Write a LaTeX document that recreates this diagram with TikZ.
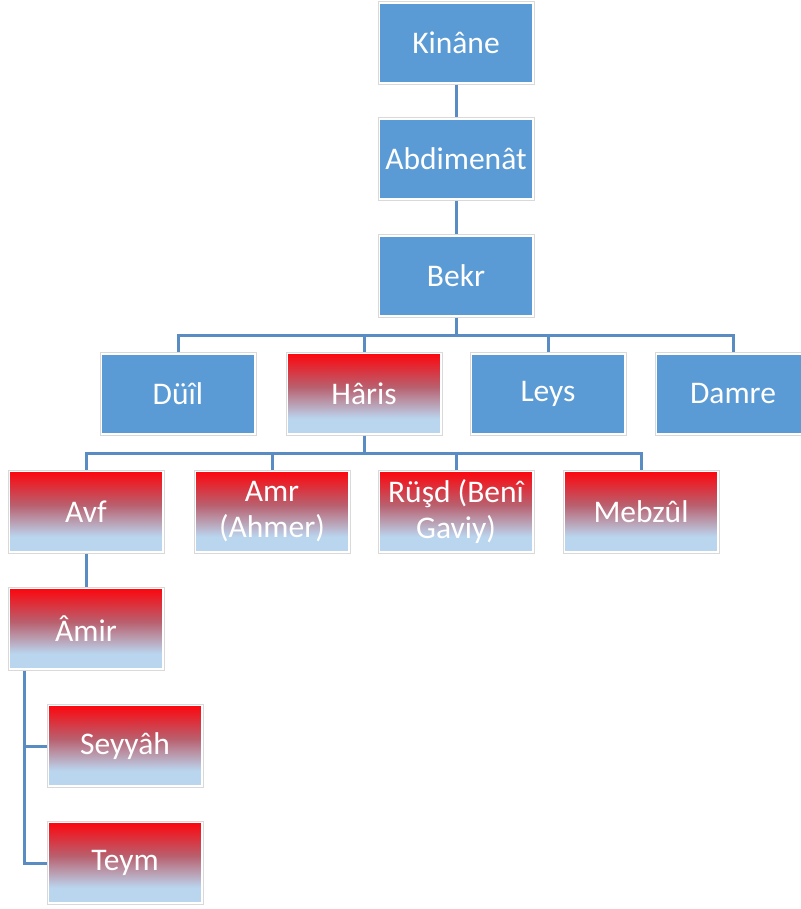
\documentclass[tikz,border=0pt]{standalone}
\usepackage{fontspec}
\setmainfont{Carlito}
\definecolor{boxblue}{HTML}{5B9BD5}
\definecolor{topred}{HTML}{FA0A12}
\definecolor{botblue}{HTML}{BAD5EE}
\definecolor{linkblue}{HTML}{5A8CC4}
\begin{document}
\begin{tikzpicture}[x=1pt,y=-1pt,
  basebox/.style={minimum width=156pt, minimum height=83pt, inner sep=2pt,
    draw=black!15, line width=0.8pt, fill=white, text=white, align=center,
    font=\fontsize{31.5}{36}\selectfont},
  bluebox/.style={basebox, path picture={
    \fill[boxblue] ([shift={(2.2pt,2.2pt)}]path picture bounding box.south west)
      rectangle ([shift={(-2.2pt,-2.2pt)}]path picture bounding box.north east);}},
  redbox/.style={basebox, path picture={
    \fill[botblue] ([shift={(2.2pt,2.2pt)}]path picture bounding box.south west)
      rectangle ([shift={(-2.2pt,-2.2pt)}]path picture bounding box.north east);
    \shade[top color=topred, bottom color=botblue, middle color=topred!50!botblue!85!black]
      ([shift={(2.2pt,17pt)}]path picture bounding box.south west)
      rectangle ([shift={(-2.2pt,-2.2pt)}]path picture bounding box.north east);}},
  link/.style={draw=linkblue, line width=3pt}
]
\useasboundingbox (0,0) rectangle (800,909);

\node[bluebox] (kinane) at (456,43) {Kinâne};
\node[bluebox] (abdi) at (456,159) {Abdimenât};
\node[bluebox] (bekr) at (456,276) {Bekr};

\node[bluebox] (dul) at (178,394) {Düîl};
\node[redbox] (haris) at (364,394) {Hâris};
\node[bluebox] (leys) at (548,394) {Leys};
\node[bluebox] (damre) at (733,394) {Damre};

\node[redbox] (avf) at (86,512) {Avf};
\node[redbox] (amr) at (272,512) {Amr\\(Ahmer)};
\node[redbox] (rusd) at (456,512) {Rüşd (Benî\\Gaviy)};
\node[redbox] (mebzul) at (641,512) {Mebzûl};

\node[redbox] (amir) at (86,629) {Âmir};
\node[redbox] (seyyah) at (125,746) {Seyyâh};
\node[redbox] (teym) at (125,863) {Teym};

\draw[link] (kinane.south) -- (abdi.north);
\draw[link] (abdi.south) -- (bekr.north);
\foreach \c in {dul,haris,leys,damre}
  \draw[link] (bekr.south) -- ++(0,18) -| (\c.north);
\foreach \c in {avf,amr,rusd,mebzul}
  \draw[link] (haris.south) -- ++(0,18) -| (\c.north);
\draw[link] (avf.south) -- (amir.north);
\draw[link] ([xshift=17pt]amir.south west) |- (seyyah.west);
\draw[link] ([xshift=17pt]amir.south west) |- (teym.west);
\end{tikzpicture}
\end{document}
